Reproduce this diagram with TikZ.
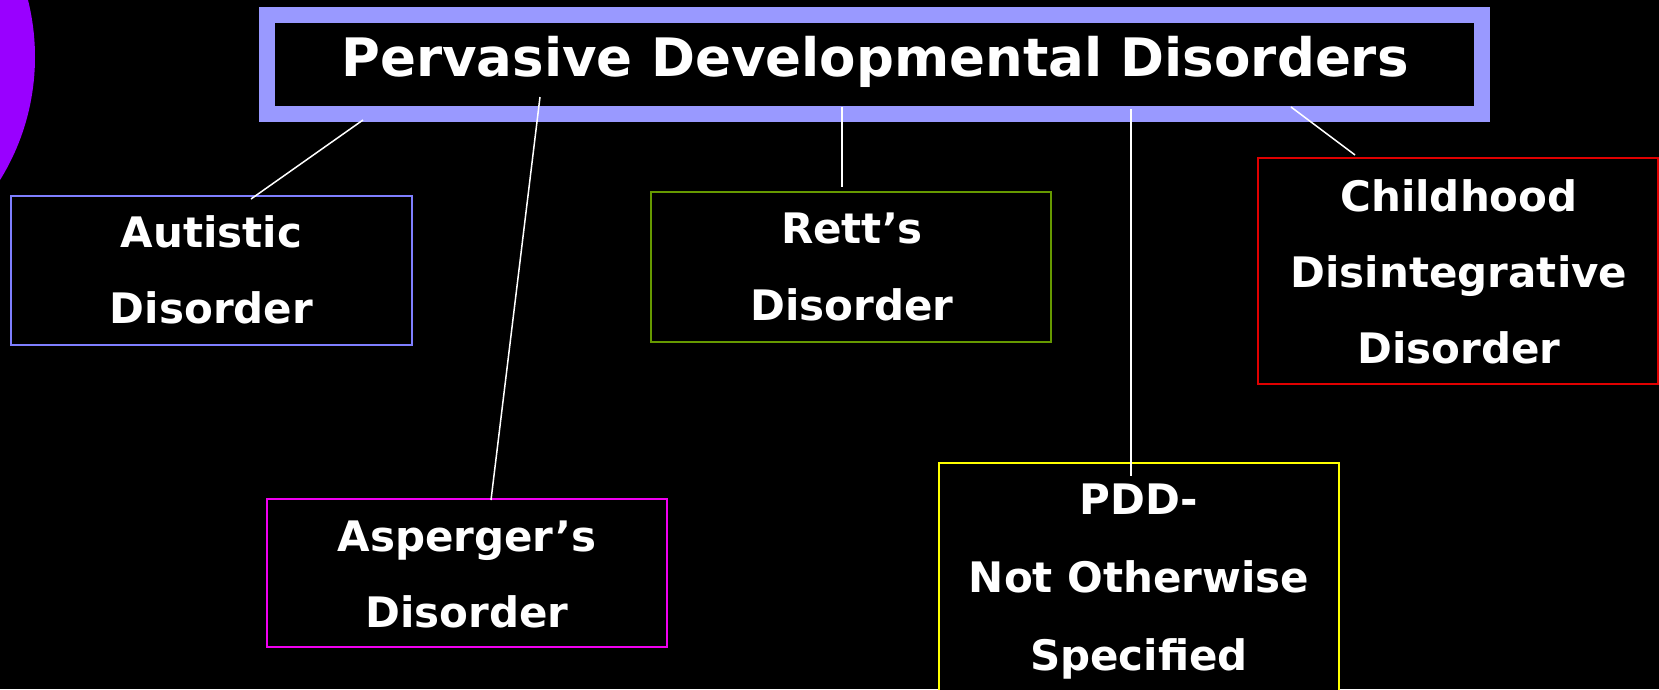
\documentclass[tikz,border=0pt]{standalone}
\usepackage{fontspec}
\setmainfont{DejaVu Sans}
\usetikzlibrary{calc}
\definecolor{titlecol}{HTML}{9999FF}
\definecolor{autcol}{HTML}{7F7FFF}
\definecolor{aspcol}{HTML}{F000F0}
\definecolor{rettcol}{HTML}{669900}
\definecolor{pddcol}{HTML}{FFFF00}
\definecolor{childcol}{HTML}{E00000}
\definecolor{circcol}{HTML}{9900FF}
\tikzset{
  boxstyle/.style={draw, line width=1.6pt, fill=black, inner sep=0pt, outer sep=0pt, rectangle},
  lbl/.style={text=white, font=\fontsize{42}{50}\bfseries, anchor=base, inner sep=0pt},
  conn/.style={draw=white, line width=1.5pt}
}
\begin{document}
\begin{tikzpicture}[x=1pt,y=-1pt]
\fill[black] (0,0) rectangle (1659,689);
\useasboundingbox (0,0) rectangle (1659,689);
\clip (0,0) rectangle (1659,689);
% purple circle
\fill[circcol] (-198.6,57) circle[radius=233.6];
% boxes
\node[draw=titlecol, line width=16pt, fill=black, inner sep=0pt, outer sep=0pt, minimum width=1215pt, minimum height=99pt] (title) at (874.5,64.5) {};
\node[boxstyle, draw=autcol, minimum width=401pt, minimum height=149pt] (aut) at (211.5,270.5) {};
\node[boxstyle, draw=aspcol, minimum width=400pt, minimum height=148pt] (asp) at (467,573) {};
\node[boxstyle, draw=rettcol, minimum width=400pt, minimum height=150pt] (rett) at (851,267) {};
\node[boxstyle, draw=pddcol, minimum width=400pt, minimum height=240pt] (pdd) at (1139,583) {};
\node[boxstyle, draw=childcol, minimum width=400pt, minimum height=226pt] (child) at (1458,271) {};
% texts
\node[lbl, font=\fontsize{53}{60}\bfseries] (ttext) at (875,76) {Pervasive Developmental Disorders};
\node[lbl] (aut1) at (211.5,247) {Autistic};
\node[lbl] (aut2) at (211.5,323) {Disorder};
\node[lbl] (asp1) at (467,551) {Asperger’s};
\node[lbl] (asp2) at (467,627) {Disorder};
\node[lbl] (rett1) at (852,243) {Rett’s};
\node[lbl] (rett2) at (852,320) {Disorder};
\node[lbl] (pdd1) at (1139,514) {PDD-};
\node[lbl] (pdd2) at (1139,592) {Not Otherwise};
\node[lbl] (pdd3) at (1139,670) {Specified};
\node[lbl] (child1) at (1459,211) {Childhood};
\node[lbl] (child2) at (1459,287) {Disintegrative};
\node[lbl] (child3) at (1459,363) {Disorder};
% connectors
\draw[conn] ([xshift=96pt,yshift=-6pt]title.south west) -- ([xshift=39.5pt,yshift=-3pt]aut.north);
\draw[conn] ([xshift=273pt,yshift=17pt]title.south west) -- ([xshift=24pt,yshift=-1pt]asp.north);
\draw[conn] ([xshift=575pt,yshift=7pt]title.south west) -- ([xshift=-9pt,yshift=5pt]rett.north);
\draw[conn] ([xshift=864pt,yshift=5pt]title.south west) -- ([xshift=-8pt,yshift=-13pt]pdd.north);
\draw[conn] ([xshift=1024pt,yshift=7pt]title.south west) -- ([xshift=-103pt,yshift=3pt]child.north);
\end{tikzpicture}
\end{document}
